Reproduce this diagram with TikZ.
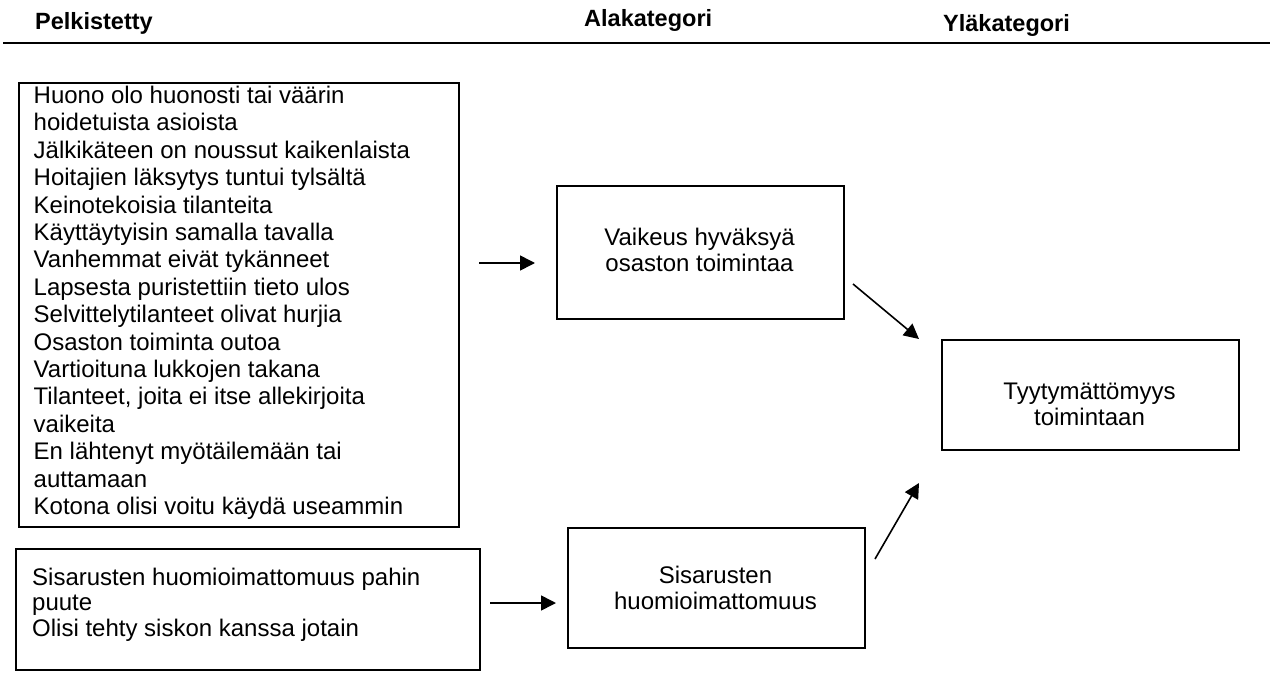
\documentclass[tikz,border=0pt]{standalone}
\usepackage{fontspec}
\setmainfont{Liberation Sans}
\usetikzlibrary{arrows.meta}
\begin{document}
\begin{tikzpicture}[x=1pt,y=-1pt,
  box/.style={draw, line width=1.6pt, inner sep=0pt, anchor=north west},
  body/.style={font=\fontsize{24}{27.4}\selectfont, inner sep=0pt, align=left, anchor=base west},
  bodytight/.style={body, font=\fontsize{24}{25.5}\selectfont},
  mid/.style={font=\fontsize{24}{26}\selectfont, inner sep=0pt, align=center, anchor=base},
  head/.style={font=\fontsize{23.5}{27}\selectfont\bfseries, inner sep=0pt, anchor=base west},
  arr/.style={line width=1.6pt, -{Triangle[length=15pt,width=15pt]}}]
\useasboundingbox (0,0) rectangle (1270,688);

% column headings and rule
\node[head] (hPelk) at (35,30) {Pelkistetty};
\node[head] (hAla) at (584,27) {Alakategori};
\node[head] (hYla) at (943,31) {Yläkategori};
\draw[line width=2.4pt] (3,43) -- (1270,43);

% reduced expressions (text nodes are placed by the baseline of their last line)
\node[box, minimum width=440pt, minimum height=444pt] (pel1) at (18,82) {};
\node[body] (pel1t) at (33.5,514.5) {Huono olo huonosti tai väärin\\
hoidetuista asioista\\
Jälkikäteen on noussut kaikenlaista\\
Hoitajien läksytys tuntui tylsältä\\
Keinotekoisia tilanteita\\
Käyttäytyisin samalla tavalla\\
Vanhemmat eivät tykänneet\\
Lapsesta puristettiin tieto ulos\\
Selvittelytilanteet olivat hurjia\\
Osaston toiminta outoa\\
Vartioituna lukkojen takana\\
Tilanteet, joita ei itse allekirjoita\\
vaikeita\\
En lähtenyt myötäilemään tai\\
auttamaan\\
Kotona olisi voitu käydä useammin};

\node[box, minimum width=464pt, minimum height=121pt] (pel2) at (15,548) {};
\node[bodytight] (pel2t) at (32,636) {Sisarusten huomioimattomuus pahin\\
puute\\
Olisi tehty siskon kanssa jotain};

% subcategories
\node[box, minimum width=287pt, minimum height=133pt] (ala1) at (556,185) {};
\node[mid] (ala1t) at (699.5,271) {Vaikeus hyväksyä\\osaston toimintaa};

\node[box, minimum width=297pt, minimum height=120pt] (ala2) at (567,527) {};
\node[mid] (ala2t) at (715.5,609) {Sisarusten\\huomioimattomuus};

% main category
\node[box, minimum width=297pt, minimum height=110pt] (yla) at (941,339) {};
\node[mid] (ylat) at (1089.5,425) {Tyytymättömyys\\toimintaan};

% connectors
\coordinate (a1s) at (479,263);
\coordinate (a1e) at (535,263);
\coordinate (a2s) at (853,284);
\coordinate (a2e) at (919,339);
\coordinate (a3s) at (875,559);
\coordinate (a3e) at (919,483);
\coordinate (a4s) at (490,603);
\coordinate (a4e) at (556,603);
\draw[arr] (a1s) -- (a1e);
\draw[arr] (a2s) -- (a2e);
\draw[arr] (a3s) -- (a3e);
\draw[arr] (a4s) -- (a4e);
\end{tikzpicture}
\end{document}
